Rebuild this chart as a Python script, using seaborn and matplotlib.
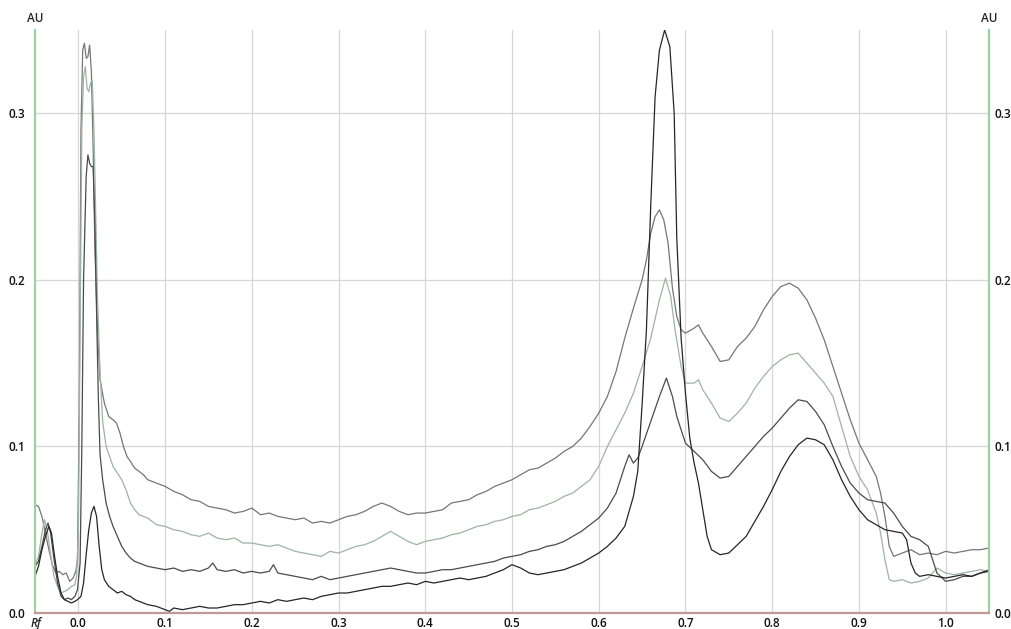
import numpy as np
import pandas as pd
import matplotlib
matplotlib.use('Agg')
import matplotlib.pyplot as plt
import seaborn as sns

# densitogram tracks (Rf vs AU)
rf_a = [-0.05, -0.046, -0.042, -0.038, -0.034, -0.03, -0.026, -0.022, -0.018, -0.014, -0.01, -0.006, -0.003, -0.001,
        0.001, 0.003, 0.005, 0.007, 0.009, 0.011, 0.013, 0.015, 0.017, 0.019, 0.022, 0.025, 0.03, 0.035, 0.04, 0.044,
        0.048, 0.052, 0.056, 0.06, 0.065, 0.07, 0.075, 0.08, 0.09, 0.1, 0.11, 0.12, 0.13, 0.14, 0.15, 0.16, 0.17,
        0.18, 0.19, 0.2, 0.21, 0.22, 0.23, 0.24, 0.25, 0.26, 0.27, 0.28, 0.29, 0.3, 0.31, 0.32, 0.33, 0.34, 0.35,
        0.36, 0.37, 0.38, 0.39, 0.4, 0.41, 0.42, 0.43, 0.44, 0.45, 0.46, 0.47, 0.48, 0.49, 0.5, 0.51, 0.52, 0.53,
        0.54, 0.55, 0.56, 0.57, 0.58, 0.59, 0.6, 0.61, 0.62, 0.63, 0.64, 0.65, 0.655, 0.66, 0.665, 0.67, 0.675,
        0.68, 0.685, 0.69, 0.695, 0.7, 0.71, 0.715, 0.72, 0.73, 0.74, 0.75, 0.76, 0.77, 0.78, 0.79, 0.8, 0.81,
        0.82, 0.83, 0.84, 0.85, 0.86, 0.87, 0.88, 0.89, 0.9, 0.91, 0.92, 0.925, 0.93, 0.935, 0.94, 0.95, 0.96,
        0.97, 0.98, 0.99, 1.0, 1.01, 1.02, 1.03, 1.04, 1.05]
au_a = [0.065, 0.064, 0.058, 0.048, 0.038, 0.029, 0.024, 0.025, 0.023, 0.024, 0.019, 0.021, 0.025, 0.032,
        0.12, 0.29, 0.338, 0.342, 0.333, 0.334, 0.341, 0.325, 0.28, 0.22, 0.17, 0.14, 0.126, 0.118, 0.116, 0.114,
        0.108, 0.1, 0.094, 0.091, 0.087, 0.085, 0.083, 0.08, 0.078, 0.076, 0.073, 0.071, 0.068, 0.067, 0.064, 0.063, 0.062,
        0.06, 0.061, 0.063, 0.059, 0.06, 0.058, 0.057, 0.056, 0.057, 0.054, 0.055, 0.054, 0.056, 0.058, 0.059, 0.061, 0.064, 0.066,
        0.064, 0.061, 0.059, 0.06, 0.06, 0.061, 0.062, 0.066, 0.067, 0.068, 0.071, 0.073, 0.076, 0.078, 0.08, 0.083, 0.086, 0.087,
        0.09, 0.093, 0.097, 0.1, 0.105, 0.112, 0.12, 0.13, 0.145, 0.165, 0.183, 0.2, 0.212, 0.228, 0.238, 0.242, 0.236,
        0.222, 0.195, 0.178, 0.17, 0.168, 0.171, 0.173, 0.168, 0.16, 0.151, 0.152, 0.16, 0.165, 0.172, 0.182, 0.19, 0.196,
        0.198, 0.195, 0.188, 0.177, 0.164, 0.148, 0.132, 0.116, 0.102, 0.092, 0.082, 0.072, 0.058, 0.04, 0.034, 0.036, 0.038,
        0.035, 0.036, 0.035, 0.037, 0.036, 0.037, 0.038, 0.038, 0.039]

rf_b = [-0.05, -0.046, -0.042, -0.039, -0.036, -0.032, -0.028, -0.024, -0.02, -0.016, -0.012, -0.008, -0.004, -0.002,
        0.0, 0.002, 0.004, 0.006, 0.008, 0.01, 0.012, 0.014, 0.016, 0.018, 0.02, 0.022, 0.025, 0.028, 0.032, 0.036,
        0.04, 0.045, 0.05, 0.055, 0.06, 0.065, 0.07, 0.08, 0.09, 0.1, 0.11, 0.12, 0.13, 0.14, 0.15, 0.16, 0.17, 0.18,
        0.19, 0.2, 0.21, 0.22, 0.23, 0.24, 0.25, 0.26, 0.27, 0.28, 0.29, 0.3, 0.31, 0.32, 0.33, 0.34, 0.35, 0.36, 0.37,
        0.38, 0.39, 0.4, 0.41, 0.42, 0.43, 0.44, 0.45, 0.46, 0.47, 0.48, 0.49, 0.5, 0.51, 0.52, 0.53, 0.54, 0.55, 0.56,
        0.57, 0.58, 0.59, 0.6, 0.61, 0.62, 0.63, 0.64, 0.65, 0.66, 0.67, 0.677, 0.683, 0.688, 0.695, 0.7, 0.71, 0.715,
        0.72, 0.73, 0.74, 0.75, 0.76, 0.77, 0.78, 0.79, 0.8, 0.81, 0.82, 0.83, 0.84, 0.85, 0.86, 0.87, 0.88, 0.89, 0.9,
        0.91, 0.92, 0.925, 0.93, 0.935, 0.94, 0.95, 0.96, 0.97, 0.98, 0.99, 1.0, 1.01, 1.02, 1.03, 1.04, 1.05]
au_b = [0.028, 0.034, 0.048, 0.056, 0.05, 0.035, 0.022, 0.016, 0.012, 0.013, 0.014, 0.016, 0.017, 0.022,
        0.05, 0.17, 0.29, 0.322, 0.328, 0.315, 0.313, 0.318, 0.32, 0.29, 0.24, 0.19, 0.145, 0.115, 0.1, 0.094,
        0.088, 0.084, 0.08, 0.074, 0.066, 0.062, 0.059, 0.057, 0.053, 0.052, 0.05, 0.049, 0.047, 0.046, 0.048, 0.045, 0.044, 0.045,
        0.042, 0.042, 0.041, 0.04, 0.041, 0.039, 0.037, 0.036, 0.035, 0.034, 0.037, 0.036, 0.038, 0.04, 0.041, 0.043, 0.046, 0.049, 0.046,
        0.043, 0.041, 0.043, 0.044, 0.045, 0.047, 0.048, 0.05, 0.052, 0.053, 0.055, 0.056, 0.058, 0.059, 0.062, 0.063, 0.065, 0.067, 0.07,
        0.072, 0.076, 0.08, 0.088, 0.1, 0.11, 0.12, 0.132, 0.148, 0.165, 0.188, 0.201, 0.19, 0.17, 0.148, 0.138, 0.138, 0.14,
        0.134, 0.126, 0.117, 0.115, 0.12, 0.126, 0.135, 0.142, 0.148, 0.152, 0.155, 0.156, 0.15, 0.144, 0.138, 0.13, 0.112, 0.094, 0.082,
        0.074, 0.06, 0.048, 0.032, 0.02, 0.019, 0.02, 0.018, 0.019, 0.021, 0.027, 0.024, 0.023, 0.024, 0.025, 0.026, 0.025]

rf_c = [-0.05, -0.046, -0.042, -0.038, -0.035, -0.032, -0.028, -0.024, -0.02, -0.016, -0.012, -0.008, -0.004, -0.001,
        0.002, 0.004, 0.006, 0.009, 0.011, 0.013, 0.015, 0.017, 0.019, 0.021, 0.023, 0.025, 0.028, 0.032, 0.036, 0.04,
        0.045, 0.05, 0.055, 0.06, 0.065, 0.07, 0.08, 0.09, 0.1, 0.11, 0.12, 0.13, 0.14, 0.15, 0.155, 0.16, 0.17, 0.18,
        0.19, 0.2, 0.21, 0.22, 0.225, 0.23, 0.24, 0.25, 0.26, 0.27, 0.28, 0.29, 0.3, 0.31, 0.32, 0.33, 0.34, 0.35, 0.36,
        0.37, 0.38, 0.39, 0.4, 0.41, 0.42, 0.43, 0.44, 0.45, 0.46, 0.47, 0.48, 0.49, 0.5, 0.51, 0.52, 0.53, 0.54, 0.55,
        0.56, 0.57, 0.58, 0.59, 0.6, 0.61, 0.62, 0.63, 0.635, 0.64, 0.645, 0.65, 0.66, 0.67, 0.678, 0.685, 0.69, 0.7,
        0.71, 0.72, 0.73, 0.74, 0.75, 0.76, 0.77, 0.78, 0.79, 0.8, 0.81, 0.82, 0.83, 0.84, 0.85, 0.86, 0.87, 0.88, 0.89,
        0.9, 0.91, 0.92, 0.93, 0.94, 0.95, 0.96, 0.97, 0.98, 0.985, 0.99, 1.0, 1.01, 1.02, 1.03, 1.04, 1.05]
au_c = [0.028, 0.031, 0.04, 0.05, 0.054, 0.048, 0.032, 0.018, 0.01, 0.008, 0.009, 0.008, 0.01, 0.014,
        0.03, 0.1, 0.2, 0.262, 0.275, 0.27, 0.268, 0.268, 0.235, 0.18, 0.13, 0.095, 0.08, 0.066, 0.058, 0.052,
        0.046, 0.04, 0.036, 0.033, 0.031, 0.03, 0.028, 0.027, 0.026, 0.027, 0.025, 0.026, 0.025, 0.027, 0.03, 0.026, 0.025, 0.026,
        0.024, 0.025, 0.024, 0.025, 0.029, 0.024, 0.023, 0.022, 0.021, 0.02, 0.022, 0.02, 0.021, 0.022, 0.023, 0.024, 0.025, 0.026, 0.027,
        0.026, 0.025, 0.024, 0.024, 0.025, 0.026, 0.026, 0.027, 0.028, 0.029, 0.03, 0.031, 0.033, 0.034, 0.035, 0.037, 0.038, 0.04, 0.041,
        0.043, 0.046, 0.049, 0.053, 0.057, 0.063, 0.072, 0.088, 0.095, 0.09, 0.093, 0.1, 0.115, 0.13, 0.141, 0.13, 0.118, 0.102,
        0.097, 0.092, 0.085, 0.081, 0.082, 0.088, 0.094, 0.1, 0.106, 0.111, 0.117, 0.123, 0.128, 0.127, 0.121, 0.113, 0.1, 0.088, 0.078,
        0.072, 0.068, 0.067, 0.066, 0.06, 0.052, 0.046, 0.044, 0.04, 0.032, 0.024, 0.019, 0.02, 0.022, 0.022, 0.024, 0.026]

rf_d = [-0.05, -0.046, -0.042, -0.038, -0.034, -0.031, -0.028, -0.024, -0.02, -0.016, -0.012, -0.008, -0.004, -0.001,
        0.003, 0.006, 0.009, 0.012, 0.015, 0.018, 0.021, 0.024, 0.027, 0.03, 0.035, 0.04, 0.045, 0.05, 0.055, 0.06,
        0.065, 0.07, 0.075, 0.08, 0.09, 0.1, 0.105, 0.11, 0.12, 0.13, 0.14, 0.15, 0.16, 0.17, 0.18, 0.19, 0.2, 0.21,
        0.22, 0.23, 0.24, 0.25, 0.26, 0.27, 0.28, 0.29, 0.3, 0.31, 0.32, 0.33, 0.34, 0.35, 0.36, 0.37, 0.38, 0.39, 0.4,
        0.41, 0.42, 0.43, 0.44, 0.45, 0.46, 0.47, 0.48, 0.49, 0.5, 0.51, 0.52, 0.53, 0.54, 0.55, 0.56, 0.57, 0.58, 0.59,
        0.6, 0.61, 0.62, 0.63, 0.64, 0.645, 0.65, 0.655, 0.66, 0.665, 0.67, 0.676, 0.682, 0.687, 0.69, 0.695, 0.7,
        0.705, 0.71, 0.715, 0.72, 0.725, 0.73, 0.74, 0.75, 0.76, 0.77, 0.78, 0.79, 0.8, 0.81, 0.82, 0.83, 0.84, 0.85,
        0.86, 0.87, 0.88, 0.89, 0.9, 0.91, 0.92, 0.93, 0.94, 0.95, 0.955, 0.96, 0.965, 0.97, 0.98, 0.99, 1.0, 1.01,
        1.02, 1.03, 1.04, 1.05]
au_d = [0.022, 0.028, 0.038, 0.046, 0.052, 0.048, 0.036, 0.022, 0.012, 0.008, 0.007, 0.006, 0.007, 0.008,
        0.01, 0.018, 0.035, 0.05, 0.06, 0.064, 0.058, 0.04, 0.026, 0.02, 0.016, 0.014, 0.012, 0.013, 0.011, 0.01,
        0.008, 0.007, 0.006, 0.005, 0.004, 0.002, 0.001, 0.003, 0.002, 0.003, 0.004, 0.003, 0.003, 0.004, 0.005, 0.005, 0.006, 0.007,
        0.006, 0.008, 0.007, 0.008, 0.009, 0.008, 0.01, 0.011, 0.012, 0.012, 0.013, 0.014, 0.015, 0.016, 0.016, 0.017, 0.018, 0.017, 0.019,
        0.018, 0.019, 0.02, 0.021, 0.02, 0.021, 0.022, 0.024, 0.026, 0.029, 0.027, 0.024, 0.023, 0.024, 0.025, 0.026, 0.028, 0.03, 0.033,
        0.036, 0.04, 0.045, 0.052, 0.07, 0.085, 0.125, 0.17, 0.245, 0.31, 0.338, 0.35, 0.34, 0.3, 0.225, 0.165, 0.132,
        0.105, 0.09, 0.078, 0.062, 0.046, 0.038, 0.035, 0.036, 0.041, 0.046, 0.055, 0.064, 0.074, 0.085, 0.094, 0.101, 0.105, 0.104,
        0.101, 0.092, 0.08, 0.07, 0.062, 0.056, 0.053, 0.05, 0.049, 0.048, 0.044, 0.03, 0.024, 0.022, 0.023, 0.022, 0.021, 0.022,
        0.023, 0.022, 0.024, 0.025]

tracks = ['A', 'B', 'C', 'D']
track_colors = ['#767676', '#9db3a6', '#4b4b4b', '#262626']
x_ticks = [0.0, 0.1, 0.2, 0.3, 0.4, 0.5, 0.6, 0.7, 0.8, 0.9, 1.0]
y_ticks = [0.0, 0.1, 0.2, 0.3]
y_labels = [f'{v:.1f}' for v in y_ticks]

df = pd.concat([
    pd.DataFrame({'Rf': rf_a, 'AU': au_a, 'track': 'A'}),
    pd.DataFrame({'Rf': rf_b, 'AU': au_b, 'track': 'B'}),
    pd.DataFrame({'Rf': rf_c, 'AU': au_c, 'track': 'C'}),
    pd.DataFrame({'Rf': rf_d, 'AU': au_d, 'track': 'D'}),
], ignore_index=True)

sns.set_style('white')
plt.rcParams['font.family'] = ['Open Sans', 'DejaVu Sans']

fig = plt.figure(figsize=(10.12, 6.29), dpi=100)
ax = fig.add_axes([35 / 1012, 1 - 613 / 629, (989 - 35) / 1012, (613 - 30) / 629])

sns.lineplot(data=df, x='Rf', y='AU', hue='track', hue_order=tracks, palette=track_colors,
             estimator=None, sort=False, legend=False, linewidth=0.9, ax=ax)

ax.set_xlim(-0.05, 1.05)
ax.set_ylim(0, 0.35)
ax.set_xticks(x_ticks)
ax.set_yticks(y_ticks)
ax.set_xticklabels([f'{v:.1f}' for v in x_ticks])
ax.set_yticklabels(y_labels)
ax.grid(True, color='#d6d6d6', linewidth=0.9)
ax.set_axisbelow(True)
ax.set_xlabel('')
ax.set_ylabel('')
ax.tick_params(axis='both', length=0, labelsize=8.5, colors='#111111')
ax.tick_params(axis='y', pad=7)
ax.tick_params(axis='x', pad=3)
for lbl in ax.get_xticklabels() + ax.get_yticklabels():
    lbl.set_fontweight('semibold')

# right-hand AU scale, a bit closer to the spine so it stays inside the frame
ax_r = ax.secondary_yaxis('right')
ax_r.set_yticks(y_ticks)
ax_r.set_yticklabels(y_labels, fontweight='semibold')
ax_r.tick_params(length=0, labelsize=8.5, colors='#111111', pad=4)
ax_r.spines['right'].set_visible(False)

ax.spines['top'].set_visible(False)
for side in ['left', 'right']:
    ax.spines[side].set_color('#9fd09f')
    ax.spines[side].set_linewidth(1.6)
ax.spines['bottom'].set_color('#c09a94')
ax.spines['bottom'].set_linewidth(1.6)

fig.text(35 / 1012, 1 - 19 / 629, 'AU', ha='center', va='center', fontsize=8.5, fontweight='semibold')
fig.text(989 / 1012, 1 - 19 / 629, 'AU', ha='center', va='center', fontsize=8.5, fontweight='semibold')
fig.text(36 / 1012, 1 - 623 / 629, 'Rf', ha='center', va='center', fontsize=8.5,
         fontweight='semibold', fontstyle='italic')

fig.savefig('out.png', dpi=100)
